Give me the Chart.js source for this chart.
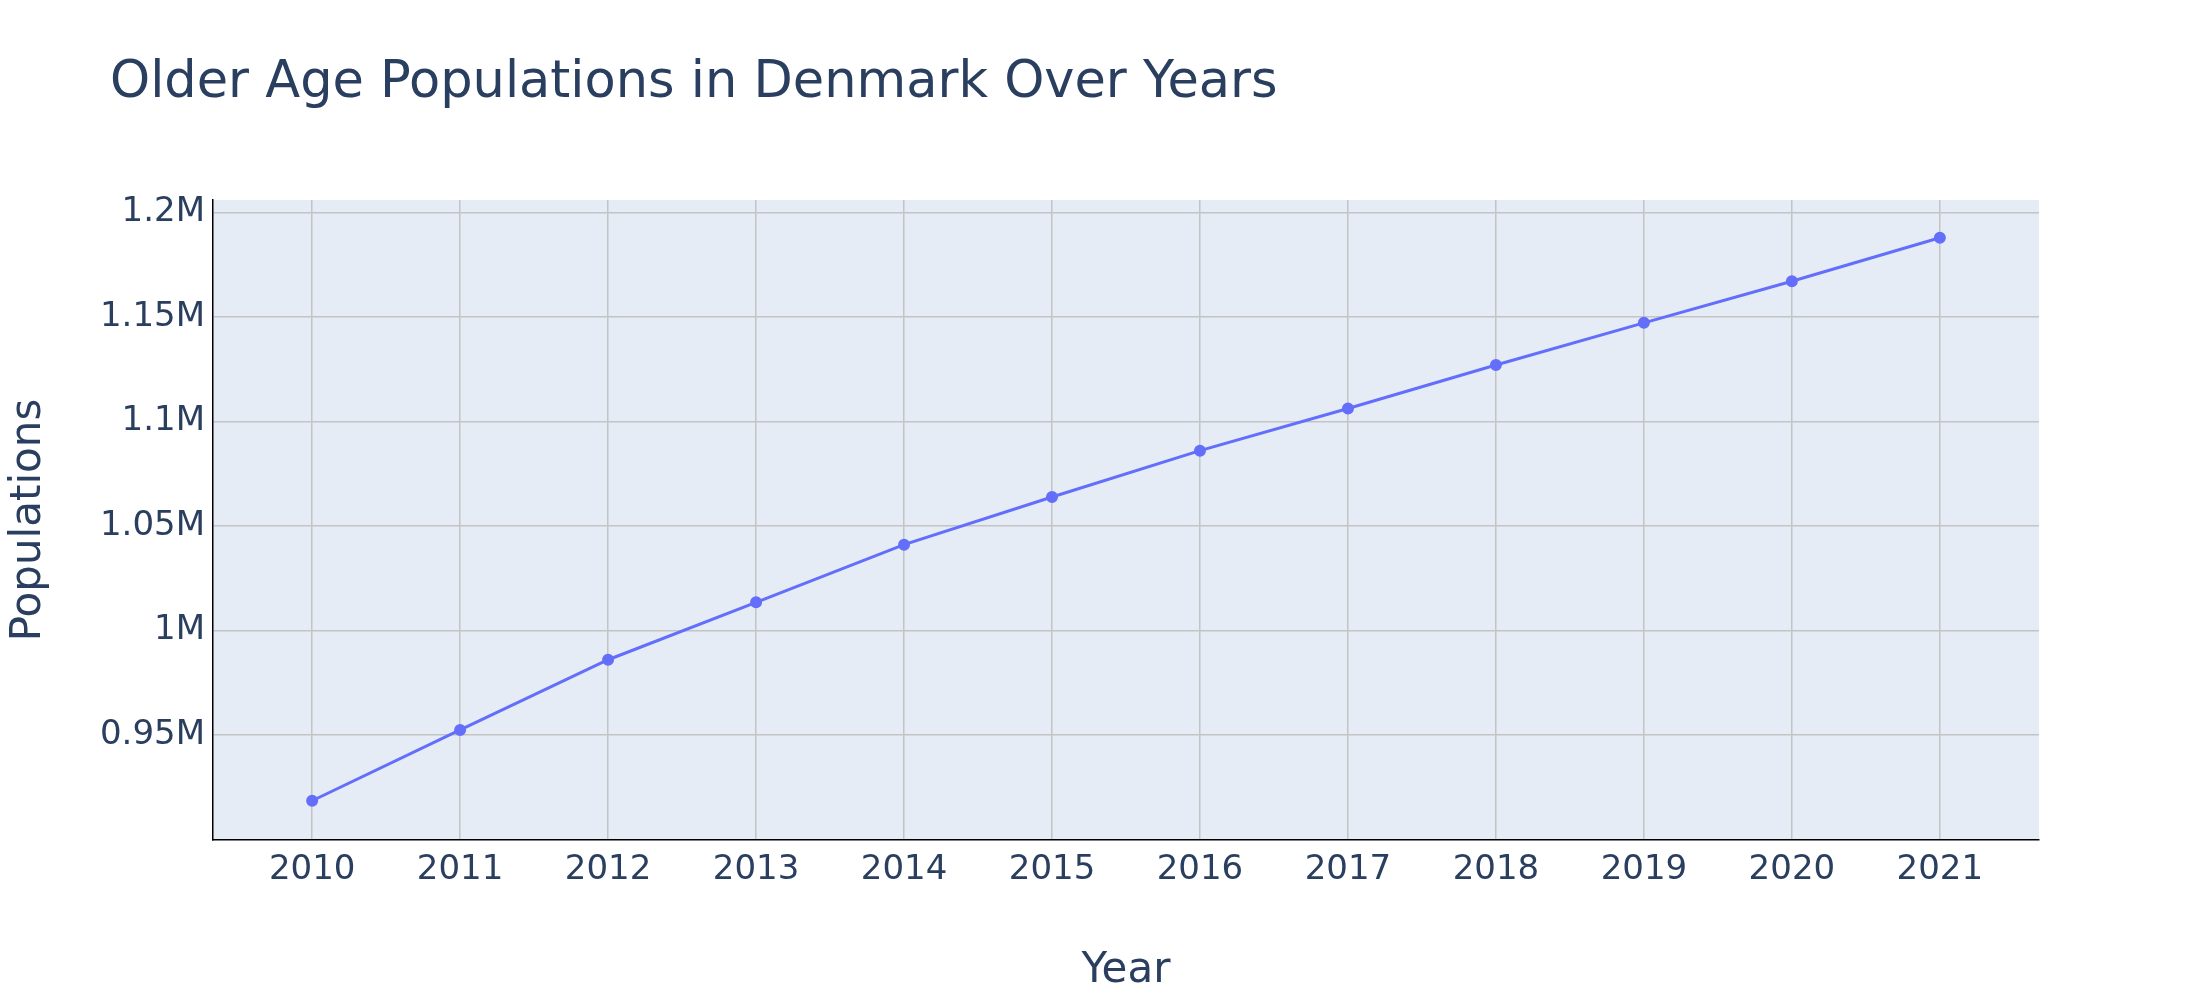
<!DOCTYPE html>
<html>
<head>
<meta charset="utf-8">
<script src="https://cdn.jsdelivr.net/npm/chart.js@4/dist/chart.umd.min.js"></script>
<style>
  body { margin: 0; background: #fff; }
  #wrap { position: relative; width: 2200px; height: 1000px; }
  h1 { position: absolute; left: 110px; top: 50px; margin: 0; font: 400 51px "DejaVu Sans", sans-serif; color: #2a3f5f; }
</style>
</head>
<body>
<div id="wrap">
  <h1>Older Age Populations in Denmark Over Years</h1>
  <canvas id="chart" width="2200" height="1000"></canvas>
</div>
<script>
const years = [2010, 2011, 2012, 2013, 2014, 2015, 2016, 2017, 2018, 2019, 2020, 2021];
const populations = [918400, 952300, 985900, 1013400, 1041000, 1063800, 1086000, 1106200, 1127000, 1147200, 1167100, 1187900];
const yTicks = [950000, 1000000, 1050000, 1100000, 1150000, 1200000];
const yTickLabels = ['0.95M', '1M', '1.05M', '1.1M', '1.15M', '1.2M'];

const textColor = '#2a3f5f';
const font = 'DejaVu Sans';

// plot background
const plotBg = {
    id: 'plotBg',
    beforeDraw(chart) {
        const a = chart.chartArea;
        const ctx = chart.ctx;
        ctx.save();
        ctx.fillStyle = '#e5ecf6';
        ctx.fillRect(a.left, a.top, a.right - a.left, a.bottom - a.top);
        ctx.restore();
    }
};

new Chart(document.getElementById('chart'), {
    type: 'line',
    data: {
        datasets: [{
            data: years.map((y, i) => ({ x: y, y: populations[i] })),
            borderColor: '#636efa',
            backgroundColor: '#636efa',
            borderWidth: 3,
            pointRadius: 4.5,
            pointHoverRadius: 5,
            tension: 0
        }]
    },
    options: {
        responsive: false,
        animation: false,
        layout: { padding: { top: 200, right: 161, left: 0, bottom: 0 } },
        plugins: { legend: { display: false }, title: { display: false }, tooltip: { enabled: false } },
        scales: {
            x: {
                type: 'linear',
                min: 2009.33,
                max: 2021.67,
                afterBuildTicks: axis => { axis.ticks = years.map(v => ({ value: v })); },
                afterFit: axis => { axis.height = 160; },
                ticks: { color: textColor, font: { family: font, size: 34 }, padding: 10, callback: v => String(v) },
                grid: { color: '#c4c4c4', lineWidth: 1.5, drawTicks: false },
                border: { color: '#000', width: 1.5 },
                title: { display: true, text: 'Year', color: textColor, font: { family: font, size: 42 }, padding: { top: 0 } }
            },
            y: {
                min: 899600,
                max: 1206000,
                afterBuildTicks: axis => { axis.ticks = yTicks.map(v => ({ value: v })); },
                afterFit: axis => { axis.width = 213; },
                ticks: {
                    color: textColor, font: { family: font, size: 34 }, padding: 8,
                    callback: v => yTickLabels[yTicks.indexOf(v)]
                },
                grid: { color: '#c4c4c4', lineWidth: 1.5, drawTicks: false },
                border: { color: '#000', width: 1.5 },
                title: { display: true, text: 'Populations', color: textColor, font: { family: font, size: 42 }, padding: { bottom: 4 } }
            }
        }
    },
    plugins: [plotBg]
});
</script>
</body>
</html>
